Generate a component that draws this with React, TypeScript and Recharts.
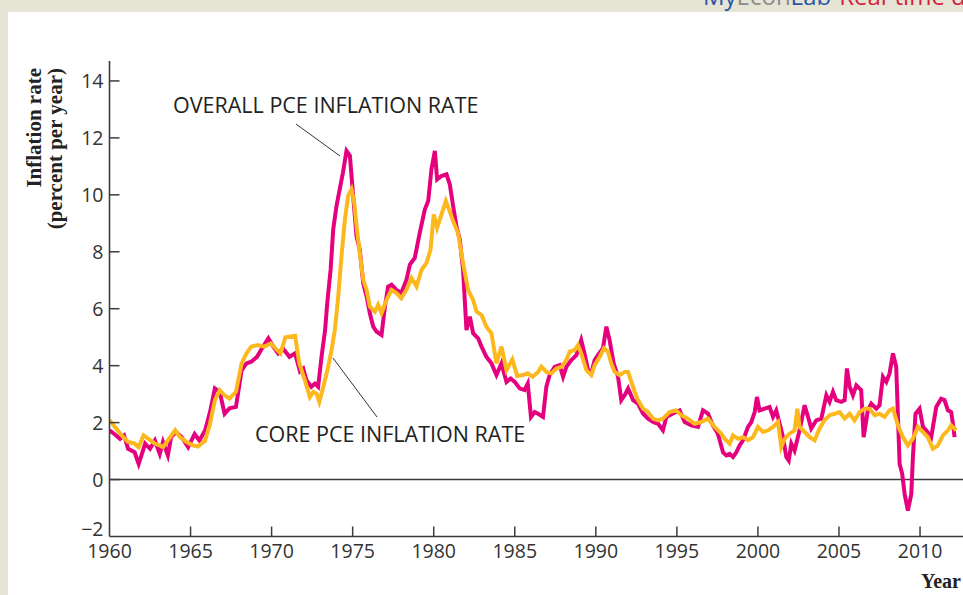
import React from "react";
import { LineChart, Line, XAxis, YAxis, ReferenceLine } from "recharts";

// Overall PCE inflation rate (percent per year), [year, rate]
const overallPCE: [number, number][] = [
  [1960.0,1.73],[1960.3,1.6],[1960.65,1.43],[1960.9,1.55],[1961.15,1.08],[1961.55,0.96],[1961.8,0.55],[1962.0,0.9],[1962.2,1.26],[1962.5,1.08],[1962.8,1.37],[1963.1,0.9],[1963.3,1.32],[1963.6,0.85],[1963.8,1.49],[1964.1,1.67],[1964.45,1.49],[1964.85,1.14],[1965.25,1.6],[1965.55,1.37],[1965.9,1.73],[1966.2,2.37],[1966.5,3.2],[1966.8,3.08],[1967.1,2.31],[1967.4,2.5],[1967.8,2.55],[1968.15,3.84],[1968.45,4.08],[1968.75,4.14],[1969.1,4.31],[1969.4,4.6],[1969.8,4.96],[1970.1,4.67],[1970.4,4.43],[1970.7,4.6],[1971.1,4.31],[1971.45,4.43],[1971.75,3.8],[1971.95,3.9],[1972.15,3.49],[1972.45,3.26],[1972.67,3.37],[1972.87,3.26],[1973.08,4.31],[1973.3,5.25],[1973.43,6.19],[1973.64,7.37],[1973.8,8.78],[1974.0,9.6],[1974.2,10.19],[1974.4,10.78],[1974.62,11.54],[1974.83,11.37],[1975.03,9.96],[1975.24,8.54],[1975.44,8.07],[1975.65,6.9],[1975.86,6.43],[1976.06,5.84],[1976.27,5.37],[1976.47,5.2],[1976.78,5.08],[1976.99,6.08],[1977.19,6.78],[1977.4,6.84],[1977.7,6.66],[1978.0,6.55],[1978.32,7.02],[1978.53,7.55],[1978.83,7.78],[1979.14,8.66],[1979.45,9.48],[1979.66,9.78],[1979.86,10.9],[1980.07,11.54],[1980.21,10.54],[1980.48,10.66],[1980.79,10.72],[1980.99,10.37],[1981.2,9.6],[1981.4,8.9],[1981.61,8.43],[1981.81,7.37],[1982.02,5.25],[1982.23,5.72],[1982.43,5.14],[1982.74,4.96],[1982.95,4.67],[1983.25,4.31],[1983.56,4.08],[1983.87,3.67],[1984.18,4.08],[1984.49,3.43],[1984.75,3.55],[1985.0,3.43],[1985.3,3.2],[1985.6,3.14],[1985.8,3.37],[1986.0,2.2],[1986.23,2.37],[1986.44,2.31],[1986.74,2.2],[1986.95,3.26],[1987.15,3.67],[1987.46,3.96],[1987.77,4.02],[1987.98,3.61],[1988.18,3.96],[1988.49,4.2],[1988.8,4.37],[1989.1,4.9],[1989.3,4.43],[1989.52,3.84],[1989.72,3.73],[1989.93,4.2],[1990.13,4.37],[1990.44,4.61],[1990.65,5.37],[1990.85,4.9],[1991.1,4.08],[1991.37,3.61],[1991.57,2.79],[1991.78,2.96],[1991.99,3.2],[1992.3,2.79],[1992.6,2.67],[1992.91,2.32],[1993.22,2.14],[1993.53,2.02],[1993.84,1.96],[1994.14,1.73],[1994.35,2.2],[1994.76,2.32],[1995.17,2.43],[1995.48,2.02],[1995.89,1.9],[1996.3,1.85],[1996.61,2.43],[1996.92,2.32],[1997.22,1.9],[1997.53,1.61],[1997.85,0.95],[1998.05,0.85],[1998.26,0.9],[1998.46,0.79],[1998.67,0.96],[1998.87,1.2],[1999.08,1.38],[1999.39,1.85],[1999.59,2.02],[1999.8,2.37],[1999.94,2.9],[2000.1,2.43],[2000.41,2.49],[2000.72,2.55],[2000.93,2.2],[2001.13,2.43],[2001.34,1.96],[2001.55,1.49],[2001.75,0.79],[2001.9,0.67],[2002.06,1.26],[2002.26,1.02],[2002.57,1.73],[2002.88,2.61],[2003.09,2.2],[2003.29,1.79],[2003.6,2.08],[2003.91,2.14],[2004.22,2.96],[2004.42,2.73],[2004.63,3.08],[2004.83,2.79],[2005.14,2.73],[2005.35,2.79],[2005.49,3.9],[2005.66,3.26],[2005.86,2.96],[2006.07,3.31],[2006.37,3.14],[2006.52,1.49],[2006.78,2.43],[2006.99,2.67],[2007.3,2.49],[2007.5,2.61],[2007.71,3.61],[2007.92,3.43],[2008.12,3.73],[2008.33,4.43],[2008.53,3.96],[2008.74,0.55],[2008.9,0.2],[2009.05,-0.51],[2009.25,-1.09],[2009.46,-0.51],[2009.56,0.79],[2009.72,2.31],[2009.97,2.49],[2010.18,1.85],[2010.38,1.73],[2010.69,1.49],[2011.0,2.55],[2011.3,2.84],[2011.51,2.79],[2011.72,2.43],[2011.92,2.37],[2012.03,1.96],[2012.13,1.49],
];

// Core PCE inflation rate (percent per year), [year, rate]
const corePCE: [number, number][] = [
  [1960.0,2.08],[1960.35,1.84],[1960.75,1.55],[1961.15,1.32],[1961.55,1.26],[1961.8,1.14],[1962.1,1.55],[1962.4,1.43],[1962.8,1.26],[1963.1,1.2],[1963.3,1.14],[1963.6,1.37],[1964.05,1.73],[1964.35,1.49],[1964.75,1.32],[1965.15,1.2],[1965.45,1.16],[1965.9,1.37],[1966.2,1.96],[1966.5,2.78],[1966.8,3.14],[1967.1,2.96],[1967.4,2.84],[1967.8,3.08],[1968.15,4.08],[1968.45,4.43],[1968.75,4.67],[1969.15,4.72],[1969.55,4.67],[1969.95,4.78],[1970.25,4.6],[1970.55,4.43],[1970.85,5.0],[1971.45,5.05],[1971.7,4.1],[1972.05,3.49],[1972.36,2.9],[1972.57,3.08],[1972.77,3.02],[1972.94,2.73],[1973.08,3.02],[1973.29,3.49],[1973.49,3.96],[1973.7,4.55],[1973.9,5.25],[1974.11,6.43],[1974.31,7.84],[1974.52,9.13],[1974.72,9.96],[1974.93,10.19],[1975.1,9.72],[1975.24,8.9],[1975.44,7.96],[1975.65,7.02],[1975.86,6.66],[1976.06,6.08],[1976.37,5.9],[1976.57,6.14],[1976.78,5.84],[1977.09,6.31],[1977.4,6.66],[1977.7,6.55],[1978.0,6.37],[1978.32,6.66],[1978.63,7.08],[1978.94,6.78],[1979.25,7.37],[1979.55,7.6],[1979.8,8.07],[1980.0,9.31],[1980.21,8.84],[1980.48,9.31],[1980.75,9.78],[1980.95,9.48],[1981.2,9.07],[1981.5,8.66],[1981.81,7.6],[1982.12,6.66],[1982.43,6.31],[1982.64,5.9],[1982.95,5.78],[1983.25,5.37],[1983.56,5.14],[1983.87,4.08],[1984.18,4.67],[1984.49,3.84],[1984.85,4.22],[1985.15,3.64],[1985.5,3.67],[1985.8,3.73],[1986.1,3.61],[1986.44,3.78],[1986.64,3.96],[1986.95,3.78],[1987.26,3.73],[1987.57,3.9],[1987.88,3.96],[1988.18,4.2],[1988.39,4.49],[1988.7,4.55],[1988.9,4.72],[1989.1,4.43],[1989.42,3.84],[1989.72,3.67],[1989.93,4.02],[1990.24,4.31],[1990.5,4.61],[1990.75,4.49],[1990.95,4.08],[1991.16,3.78],[1991.47,3.67],[1991.78,3.78],[1991.99,3.78],[1992.19,3.43],[1992.4,3.08],[1992.6,2.79],[1992.91,2.49],[1993.22,2.37],[1993.53,2.14],[1993.84,2.08],[1994.14,2.14],[1994.55,2.37],[1994.96,2.43],[1995.27,2.26],[1995.68,2.14],[1996.09,1.96],[1996.5,2.02],[1996.92,2.14],[1997.33,1.85],[1997.74,1.61],[1997.95,1.43],[1998.26,1.26],[1998.46,1.55],[1998.77,1.43],[1999.08,1.49],[1999.39,1.38],[1999.7,1.49],[2000.0,1.85],[2000.31,1.67],[2000.62,1.73],[2000.93,1.85],[2001.24,2.02],[2001.44,1.14],[2001.65,1.43],[2001.95,1.61],[2002.26,1.73],[2002.43,2.49],[2002.57,1.85],[2002.88,1.67],[2003.19,1.49],[2003.5,1.38],[2003.8,1.79],[2004.11,2.08],[2004.42,2.26],[2004.73,2.31],[2005.04,2.37],[2005.35,2.14],[2005.66,2.31],[2005.96,2.08],[2006.27,2.37],[2006.58,2.49],[2006.89,2.49],[2007.2,2.26],[2007.5,2.31],[2007.81,2.2],[2008.12,2.43],[2008.33,2.49],[2008.64,1.9],[2008.94,1.49],[2009.25,1.2],[2009.56,1.43],[2009.87,1.85],[2010.18,1.67],[2010.48,1.49],[2010.79,1.08],[2011.1,1.2],[2011.41,1.55],[2011.72,1.73],[2011.92,1.9],[2012.23,1.73],
];

const xTicks = [1960, 1965, 1970, 1975, 1980, 1985, 1990, 1995, 2000, 2005, 2010];
const yTicks = [-2, 0, 2, 4, 6, 8, 10, 12, 14];

const overallData = overallPCE.map(([year, rate]) => ({ year, rate }));
const coreData = corePCE.map(([year, rate]) => ({ year, rate }));

const SANS = "'Open Sans', 'Noto Sans', sans-serif";
const SERIF = "'Liberation Serif', 'DejaVu Serif', serif";
const AXIS = "#3c3c3c";

const YTick = (props: any) => {
  const { x, y, payload } = props;
  const v = payload.value as number;
  const label = v < 0 ? "\u2212" + Math.abs(v) : String(v);
  return (
    <g>
      {v !== -2 && <line x1={x} x2={x + 10} y1={y} y2={y} stroke={AXIS} strokeWidth={1.5} />}
      <text x={x - 6} y={v === -2 ? y - 8 : y} dy="0.36em" textAnchor="end" fontFamily={SANS} fontSize={19.5} fill="#333">
        {label}
      </text>
    </g>
  );
};

const XTick = (props: any) => {
  const { x, y, payload } = props;
  const v = payload.value as number;
  return (
    <g>
      {v !== 1960 && <line x1={x} x2={x} y1={y} y2={y - 10} stroke={AXIS} strokeWidth={1.5} />}
      <text x={x} y={y + 21} textAnchor="middle" fontFamily={SANS} fontSize={19.5} fill="#333">
        {v}
      </text>
    </g>
  );
};

export default function App() {
  return (
    <div style={{ position: "fixed", left: 0, top: 0, width: 963, height: 595, background: "#e6e4d4", overflow: "hidden" }}>
      <div style={{ position: "absolute", left: 8, top: 12, width: 955, height: 583, background: "#ffffff" }} />
      <svg width={963} height={20} style={{ position: "absolute", left: 0, top: 0 }}>
        <text x={703} y={5} fontFamily={SANS} fontSize={24}>
          <tspan fill="#2b56a8">My</tspan>
          <tspan fill="#8c8c8c">Econ</tspan>
          <tspan fill="#2b56a8">Lab</tspan>
          <tspan fill="#d3223f" dx={8}>Real-time data</tspan>
        </text>
      </svg>
      <div style={{ position: "absolute", left: 0, top: 0 }}>
        <LineChart width={963} height={595} margin={{ top: 61, right: 0, bottom: 28.5, left: 49.5 }}>
          <XAxis
            dataKey="year"
            type="number"
            domain={[1960, 2012.65]}
            allowDataOverflow
            ticks={xTicks}
            interval={0}
            height={30}
            tickLine={false}
            tickSize={0}
            tickMargin={0}
            tick={<XTick />}
            axisLine={{ stroke: AXIS, strokeWidth: 1.6 }}
          />
          <YAxis
            type="number"
            domain={[-2, 14.7]}
            allowDataOverflow
            ticks={yTicks}
            interval={0}
            width={60}
            tickLine={false}
            tickSize={0}
            tickMargin={0}
            tick={<YTick />}
            axisLine={{ stroke: AXIS, strokeWidth: 1.6 }}
          />
          <ReferenceLine y={0} stroke={AXIS} strokeWidth={1.6} />
          <Line data={overallData} dataKey="rate" type="linear" stroke="#e5007d" strokeWidth={4} dot={false} isAnimationActive={false} />
          <Line data={coreData} dataKey="rate" type="linear" stroke="#fdb81e" strokeWidth={4} dot={false} isAnimationActive={false} />
        </LineChart>
      </div>
      <svg width={963} height={595} style={{ position: "absolute", left: 0, top: 0, pointerEvents: "none" }}>
        <text transform="translate(41,68) rotate(-90)" textAnchor="end" fontFamily={SERIF} fontWeight="bold" fontSize={21} fill="#222">
          Inflation rate
        </text>
        <text transform="translate(62,68) rotate(-90)" textAnchor="end" fontFamily={SERIF} fontWeight="bold" fontSize={21} fill="#222">
          (percent per year)
        </text>
        <text x={961} y={588} textAnchor="end" fontFamily={SERIF} fontWeight="bold" fontSize={20} fill="#222">
          Year
        </text>
        <text x={173} y={113} fontFamily={SANS} fontSize={21.5} fill="#222">
          OVERALL PCE INFLATION RATE
        </text>
        <line x1={296} y1={124} x2={340} y2={156} stroke="#333" strokeWidth={1} />
        <text x={255} y={442} fontFamily={SANS} fontSize={21.5} fill="#222">
          CORE PCE INFLATION RATE
        </text>
        <line x1={333} y1={358} x2={377} y2={417} stroke="#333" strokeWidth={1} />
      </svg>
    </div>
  );
}
